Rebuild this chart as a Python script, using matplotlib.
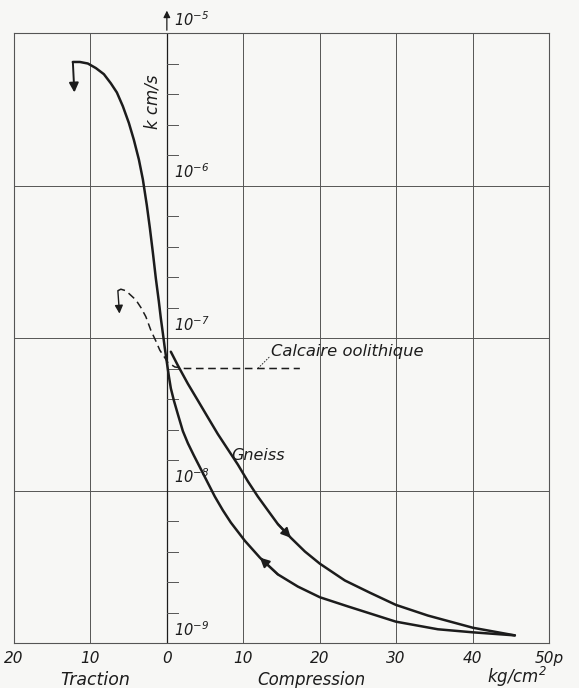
import numpy as np
import matplotlib
matplotlib.use("Agg")
import matplotlib.pyplot as plt

# Perméabilité k (cm/s) en fonction de la pression p (kg/cm2), traction < 0
# Gneiss : branche traction + décharge (courbe inférieure), log10(k)
gneiss_dech_p = [-12.30, -11.38, -10.34, -9.29, -8.24, -7.33, -6.54, -5.76,
                 -4.97, -4.32, -3.66, -3.14, -2.62, -2.22, -1.83, -1.44,
                 -1.05, -0.79, -0.52, -0.26, 0.0, 0.26, 0.52, 0.92, 1.44,
                 2.09, 2.75, 3.53, 4.45, 5.36, 6.28, 7.33, 8.37, 10.21,
                 12.17, 14.52, 17.14, 20.02, 23.68, 29.96, 35.46, 40.04, 45.53]
gneiss_dech_log = [-5.19, -5.19, -5.20, -5.23, -5.27, -5.33, -5.39, -5.48,
                   -5.59, -5.70, -5.83, -5.96, -6.13, -6.28, -6.44, -6.61,
                   -6.76, -6.87, -6.97, -7.07, -7.16, -7.25, -7.33, -7.41,
                   -7.50, -7.61, -7.69, -7.77, -7.86, -7.95, -8.04, -8.13,
                   -8.21, -8.33, -8.44, -8.55, -8.63, -8.70, -8.76, -8.86,
                   -8.91, -8.93, -8.95]

# Gneiss : charge (courbe supérieure)
gneiss_ch_p = [0.52, 1.44, 2.75, 4.06, 5.36, 6.67, 7.98, 9.29, 10.60, 11.91,
               13.21, 14.52, 16.22, 18.06, 20.02, 23.29, 26.56, 29.96, 34.15,
               40.04, 45.53]
gneiss_ch_log = [-7.09, -7.18, -7.30, -7.41, -7.52, -7.63, -7.73, -7.83,
                 -7.94, -8.04, -8.13, -8.22, -8.31, -8.40, -8.48, -8.59,
                 -8.67, -8.75, -8.82, -8.90, -8.95]

# Calcaire oolithique (tirets)
calc_p = [-6.41, -6.02, -5.36, -4.71, -4.06, -3.40, -2.75, -2.09, -1.44,
          -0.92, -0.39, 0.13, 1.05, 2.36, 4.06, 17.40]
calc_log = [-6.69, -6.68, -6.69, -6.72, -6.75, -6.80, -6.86, -6.95, -7.02,
            -7.08, -7.12, -7.16, -7.19, -7.20, -7.20, -7.20]

x_ticks = [-20, -10, 0, 10, 20, 30, 40, 50]
x_labels = ["20", "10", "0", "10", "20", "30", "40", "50p"]
decades = [-9, -8, -7, -6, -5]

plt.rcParams["font.family"] = ["DejaVu Sans"]
plt.rcParams["font.style"] = "italic"
plt.rcParams["mathtext.fontset"] = "dejavusans"
plt.rcParams["mathtext.default"] = "it"

ink = "#1c1c1c"
grid_c = "#555555"
bg = "#f7f7f5"

fig = plt.figure(figsize=(5.79, 6.88), dpi=100, facecolor=bg)
ax = fig.add_axes([14 / 579, 45 / 688, 535 / 579, 610 / 688])
ax.set_facecolor(bg)
ax.set_yscale("log")
ax.set_xlim(-20, 50)
ax.set_ylim(1e-9, 1e-5)

for s in ax.spines.values():
    s.set_color(grid_c)
    s.set_linewidth(0.8)

# grille
for xv in x_ticks[1:-1]:
    ax.axvline(xv, color=grid_c, lw=0.7, zorder=1)
for d in decades[1:-1]:
    ax.axhline(10.0 ** d, color=grid_c, lw=0.7, zorder=1)

ax.set_xticks(x_ticks)
ax.set_xticklabels(x_labels, fontsize=11, color=ink)
ax.tick_params(axis="x", length=0, pad=6)
ax.set_yticks([])
ax.yaxis.set_minor_locator(matplotlib.ticker.NullLocator())

# axe k avec flèche
ax.plot([0, 0], [1e-9, 1e-5], color=ink, lw=0.9, zorder=2)
ax.annotate("", xy=(0, 10 ** -4.835), xytext=(0, 10 ** -5.0),
            arrowprops=dict(arrowstyle="-|>", color=ink, lw=0.9,
                            mutation_scale=10), annotation_clip=False)

# graduations intermédiaires
for d in decades[:-1]:
    for f in [0.2, 0.4, 0.6, 0.8]:
        ax.plot([0, 1.45], [10 ** (d + f)] * 2, color=grid_c, lw=0.7, zorder=2)

for d in decades:
    ax.annotate(r"$10^{%d}$" % d, xy=(0, 10.0 ** d), xytext=(5, 3),
                textcoords="offset points", fontsize=10.5, color=ink,
                ha="left", va="bottom", annotation_clip=False)

ax.text(-1.9, 10 ** -5.45, "k cm/s", rotation=90, fontsize=12, color=ink,
        ha="center", va="center")

# courbes
ax.plot(gneiss_dech_p, np.power(10.0, gneiss_dech_log), color=ink, lw=1.8,
        solid_capstyle="round", solid_joinstyle="round", zorder=4)
ax.plot(gneiss_ch_p, np.power(10.0, gneiss_ch_log), color=ink, lw=1.8,
        solid_capstyle="round", solid_joinstyle="round", zorder=4)
ax.plot(calc_p, np.power(10.0, calc_log), color=ink, lw=1.1,
        dashes=(5, 3), zorder=4)

arrow_kw = dict(arrowstyle="-|>", color=ink, lw=1.4, mutation_scale=14,
                shrinkA=0, shrinkB=0)
# flèches de sens
ax.annotate("", xy=(-12.1, 10 ** -5.39), xytext=(-12.3, 10 ** -5.19),
            arrowprops=arrow_kw)
ax.annotate("", xy=(-6.2, 10 ** -6.84), xytext=(-6.41, 10 ** -6.69),
            arrowprops=dict(arrow_kw, lw=1.0, mutation_scale=12))
i = gneiss_dech_p.index(12.17)
ax.annotate("", xy=(gneiss_dech_p[i], 10 ** gneiss_dech_log[i]),
            xytext=(gneiss_dech_p[i + 1], 10 ** gneiss_dech_log[i + 1]),
            arrowprops=arrow_kw)
j = gneiss_ch_p.index(16.22)
ax.annotate("", xy=(gneiss_ch_p[j], 10 ** gneiss_ch_log[j]),
            xytext=(gneiss_ch_p[j - 1], 10 ** gneiss_ch_log[j - 1]),
            arrowprops=arrow_kw)

# étiquettes
ax.text(13.6, 10 ** -7.09, "Calcaire oolithique", fontsize=11.8, color=ink,
        ha="left", va="center")
ax.plot([11.9, 13.5], [10 ** -7.2, 10 ** -7.12], color=ink, lw=0.6,
        dashes=(2, 1.5))
ax.text(8.4, 10 ** -7.77, "Gneiss", fontsize=11.5, color=ink,
        ha="left", va="center")

fig.text(95 / 579, 1 - 680 / 688, "Traction", fontsize=12.5, color=ink,
         ha="center", va="center")
fig.text(311 / 579, 1 - 680 / 688, "Compression", fontsize=12, color=ink,
         ha="center", va="center")
fig.text(517 / 579, 1 - 677 / 688, r"kg/cm$^2$", fontsize=12, color=ink,
         ha="center", va="center")

fig.savefig("out.png", dpi=100, facecolor=bg)
